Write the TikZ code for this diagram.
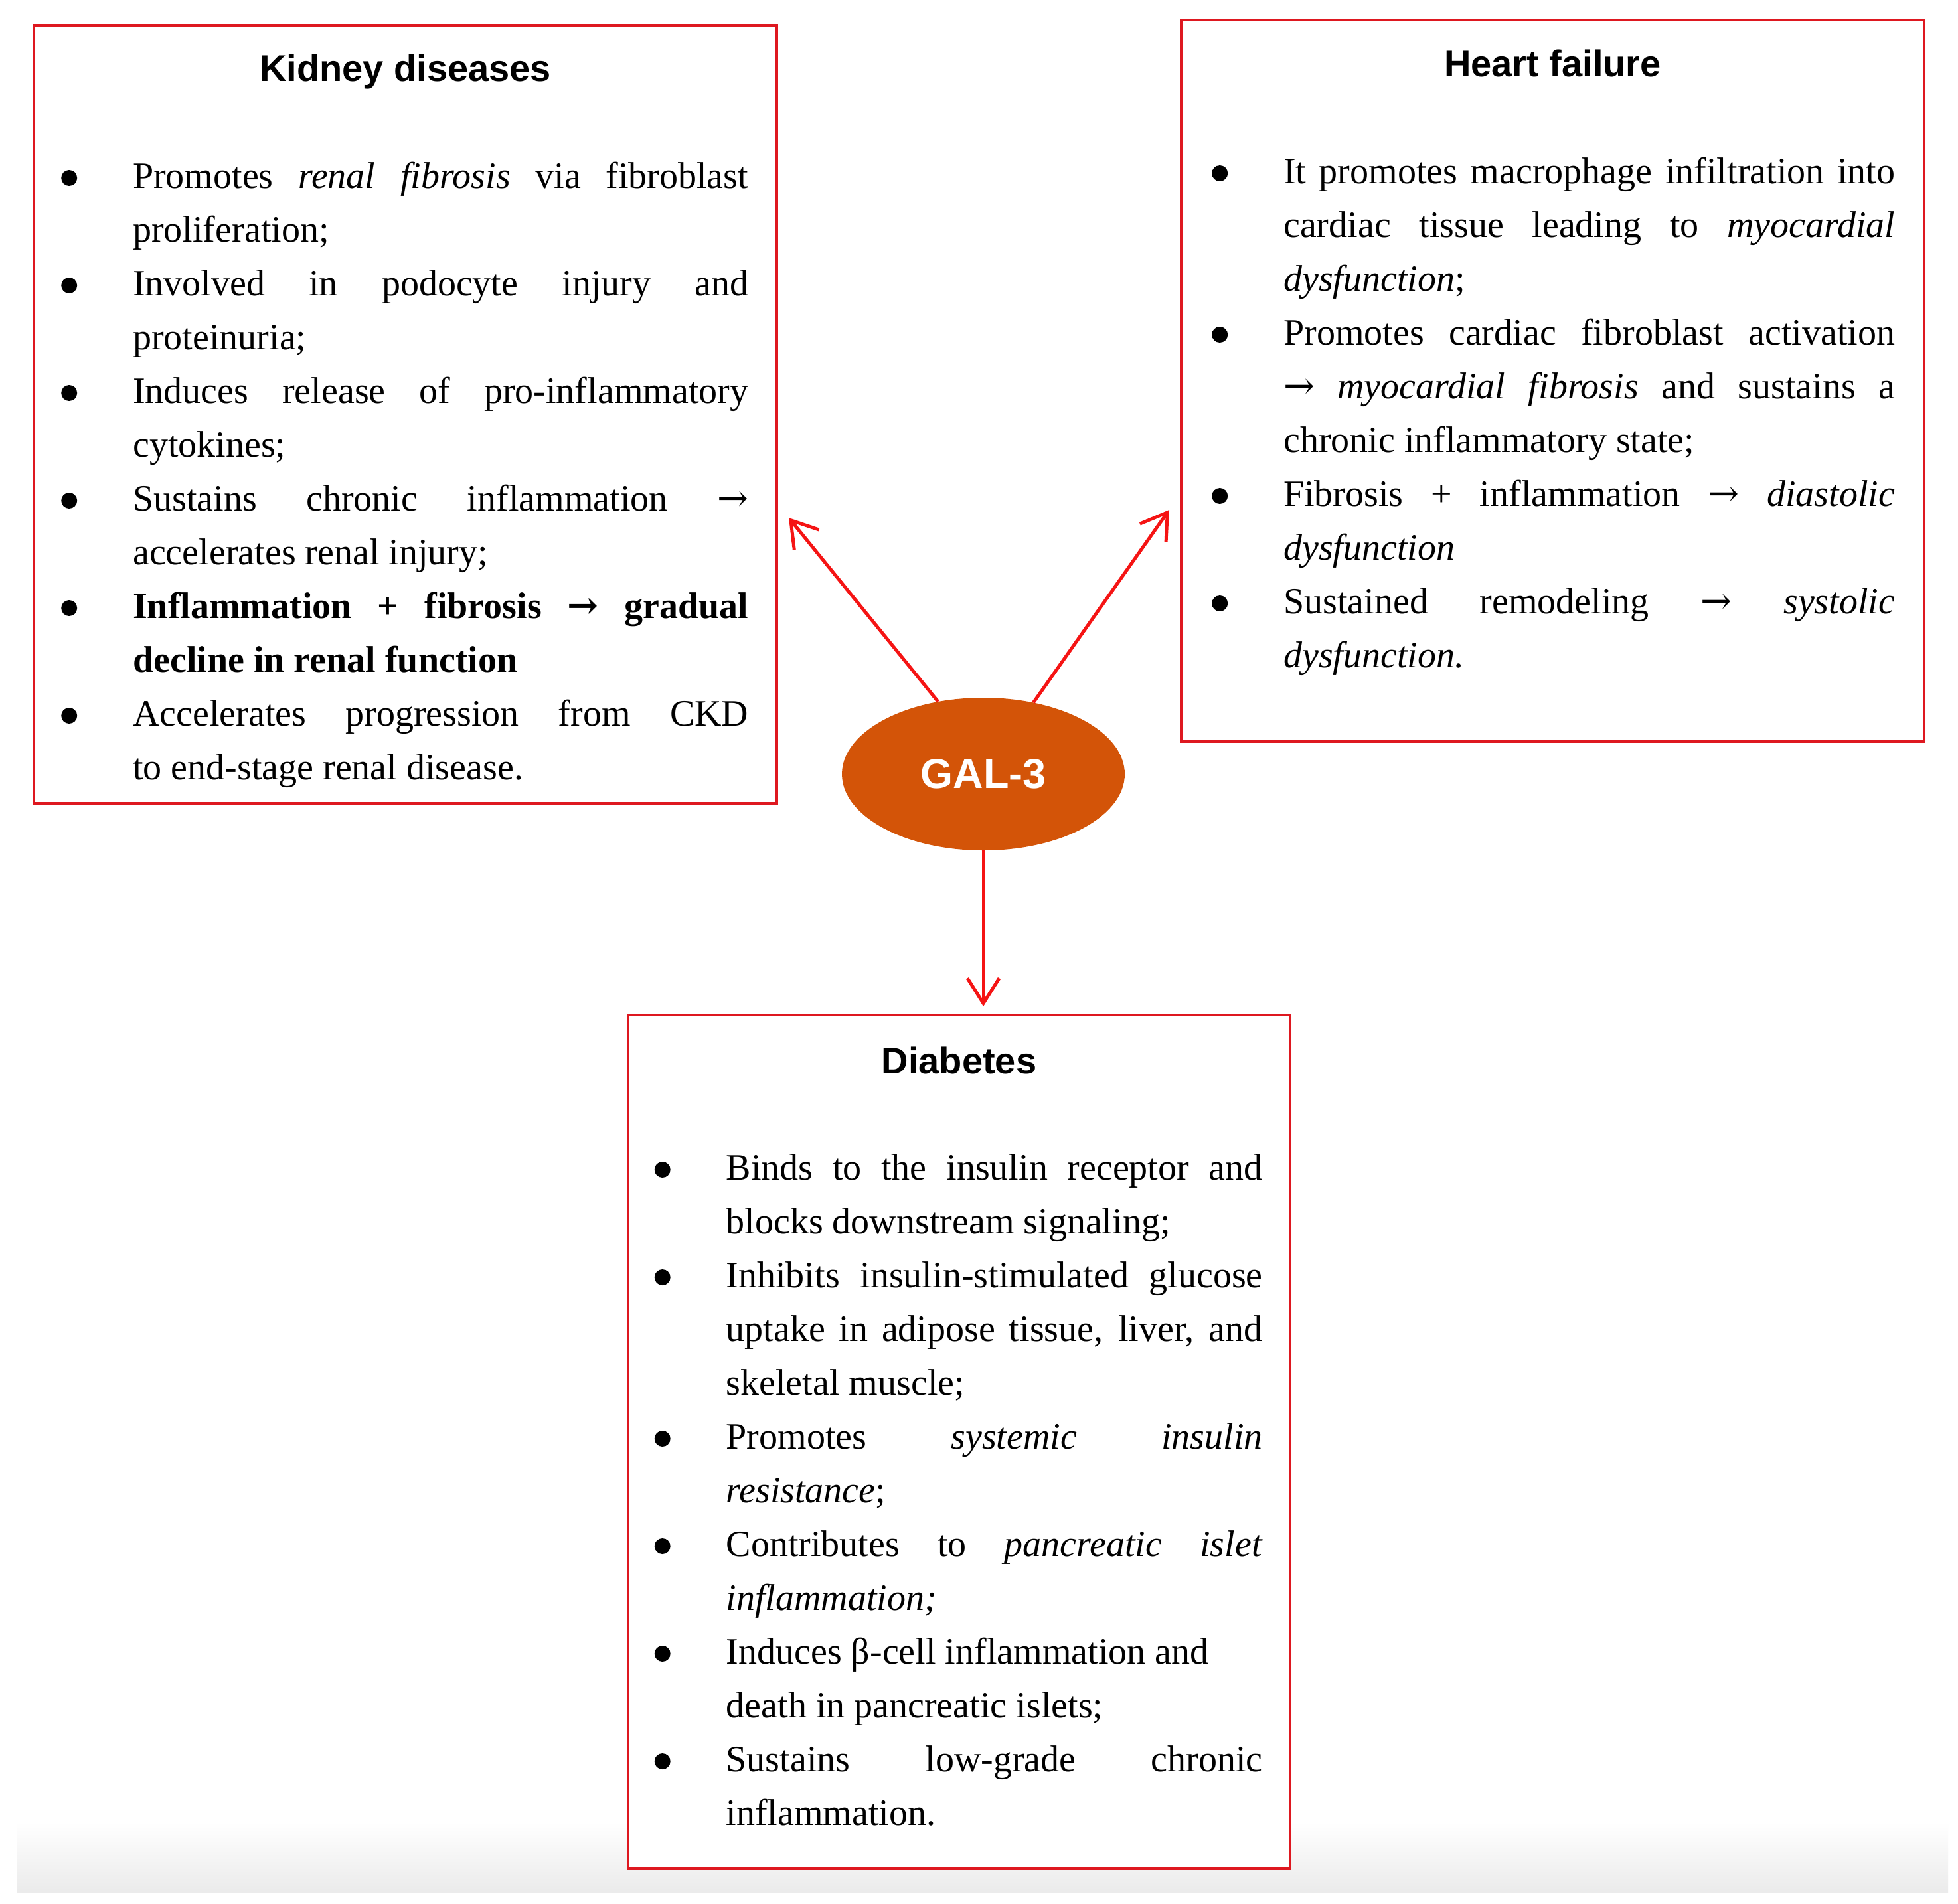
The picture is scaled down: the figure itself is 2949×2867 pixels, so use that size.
\documentclass[tikz,border=0pt]{standalone}
\usepackage{fontspec}
\setmainfont{Liberation Serif}
\newfontfamily\headfont{Liberation Sans}
\newfontfamily\arrfont{DejaVu Serif}
\usetikzlibrary{arrows.meta,shapes.geometric}
\definecolor{boxred}{RGB}{222,24,32}
\definecolor{arrred}{RGB}{245,20,20}
\definecolor{galorange}{RGB}{211,84,8}
\newcommand\bul{\llap{\tikz[baseline=0pt]\fill (0pt,15pt) circle[radius=12pt];\hspace{84pt}}}
\newcommand\Jln[1]{\hbox to\hsize{#1}}
\newcommand\Nln[1]{\hbox{#1}}
\newcommand\Blk[2]{\vtop{\hsize=#1\relax\baselineskip=81pt\lineskiplimit=-1000pt\lineskip=0pt #2}}
\newcommand\rarr{{\arrfont →}}
\tikzset{
  box/.style={draw=boxred, line width=4pt, fill=white, rectangle, inner sep=0pt},
  head/.style={anchor=base, inner sep=0pt, font=\headfont\bfseries\fontsize{56}{60}\selectfont},
  body/.style={anchor=base west, inner sep=0pt, font=\fontsize{56}{81}\selectfont},
  gal/.style={ellipse, fill=galorange, draw=none, inner sep=0pt, minimum width=426pt, minimum height=230pt,
    text=white, font=\headfont\bfseries\fontsize{63}{66}\selectfont},
  arr/.style={draw=arrred, line width=5pt, -{Straight Barb[length=38pt,width=48pt]}}
}
\begin{document}
\begin{tikzpicture}[x=1pt,y=-1pt]
\useasboundingbox (0,0) rectangle (2949,2867);
\fill[white] (0,0) rectangle (2949,2867);
\shade[top color=white, bottom color=black!8] (26,2745) rectangle (2934,2850);

% boxes
\node[box, minimum width=1119pt, minimum height=1172pt] (kidney) at (610.5,624) {};
\node[box, minimum width=1119pt, minimum height=1087pt] (heart) at (2338.5,573.5) {};
\node[box, minimum width=997pt, minimum height=1286pt] (diab) at (1444.5,2172) {};

% headings
\node[head] (kh) at (610.5,122) {Kidney diseases};
\node[head] (hh) at (2338.5,115) {Heart failure};
\node[head] (dh) at (1444.5,1617) {Diabetes};

% kidney text
\node[body] (kt) at (200,283) {\Blk{927pt}{%
\Jln{\bul Promotes \emph{renal fibrosis} via fibroblast}
\Nln{proliferation;}
\Jln{\bul Involved in podocyte injury and}
\Nln{proteinuria;}
\Jln{\bul Induces release of pro-inflammatory}
\Nln{cytokines;}
\Jln{\bul Sustains chronic inflammation \rarr}
\Nln{accelerates renal injury;}
\Jln{\bfseries\bul Inflammation + fibrosis \rarr{} gradual}
\Nln{\bfseries decline in renal function}
\Jln{\bul Accelerates progression from CKD}
\Nln{to end-stage renal disease.}}};

% heart text
\node[body] (ht) at (1933,276) {\Blk{921pt}{%
\Jln{\bul It promotes macrophage infiltration into}
\Jln{cardiac tissue leading to \emph{myocardial}}
\Nln{\emph{dysfunction};}
\Jln{\bul Promotes cardiac fibroblast activation}
\Jln{\rarr{} \emph{myocardial fibrosis} and sustains a}
\Nln{chronic inflammatory state;}
\Jln{\bul Fibrosis + inflammation \rarr{} \emph{diastolic}}
\Nln{\emph{dysfunction}}
\Jln{\bul Sustained remodeling \rarr{} \emph{systolic}}
\Nln{\emph{dysfunction.}}}};

% diabetes text
\node[body] (dt) at (1093.5,1777) {\Blk{808pt}{%
\Jln{\bul Binds to the insulin receptor and}
\Nln{blocks downstream signaling;}
\Jln{\bul Inhibits insulin-stimulated glucose}
\Jln{uptake in adipose tissue, liver, and}
\Nln{skeletal muscle;}
\Jln{\bul Promotes \emph{systemic insulin}}
\Nln{\emph{resistance};}
\Jln{\bul Contributes to \emph{pancreatic islet}}
\Nln{\emph{inflammation;}}
\Nln{\bul Induces β-cell inflammation and}
\Nln{death in pancreatic islets;}
\Jln{\bul Sustains low-grade chronic}
\Nln{inflammation.}}};

% centre
\node[gal] (g) at (1481,1166) {GAL-3};

\coordinate (ktip) at (1188,780);
\coordinate (htip) at (1761,768);
\coordinate (dtip) at (1481,1516);
\draw[arr] (g.122) -- (ktip);
\draw[arr] (g.55) -- (htip);
\draw[arr] (g.south) -- (dtip);
\end{tikzpicture}
\end{document}
